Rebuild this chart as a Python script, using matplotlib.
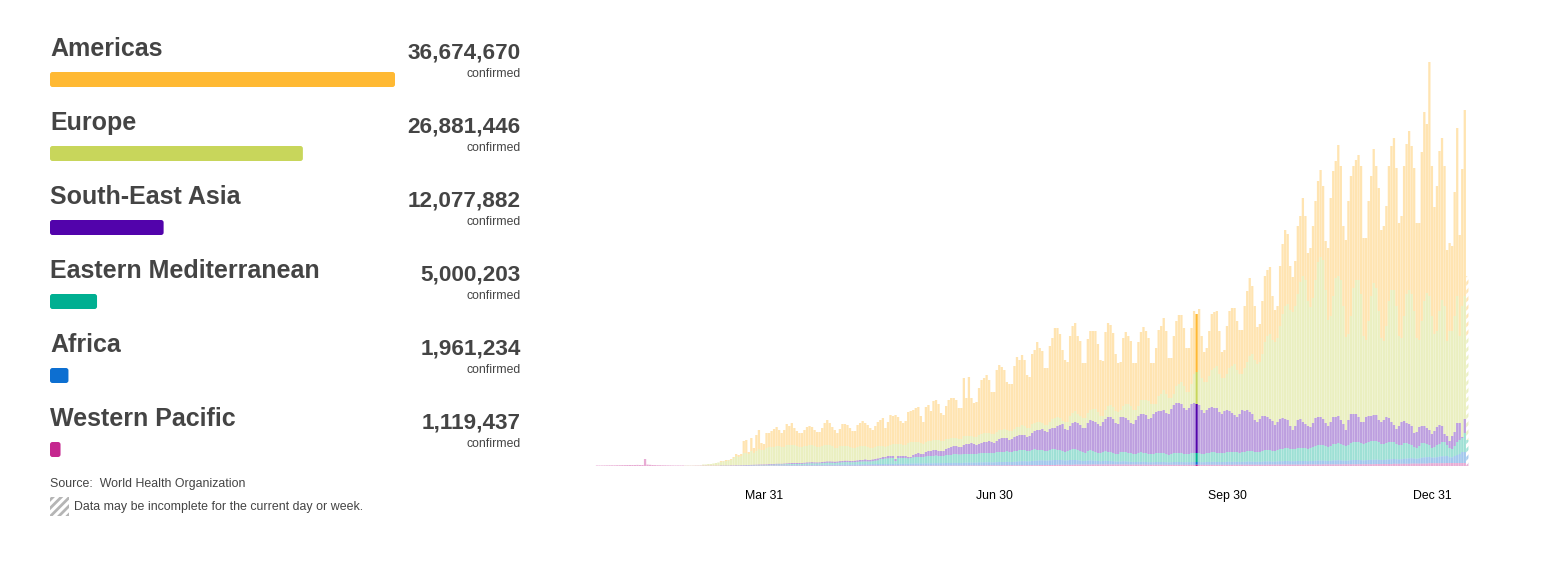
import matplotlib
matplotlib.use("Agg")
import matplotlib.pyplot as plt
import numpy as np
from matplotlib.colors import to_rgba
from matplotlib.patches import FancyBboxPatch, Rectangle

plt.rcParams['font.family'] = ['Liberation Sans', 'DejaVu Sans']
plt.rcParams['hatch.linewidth'] = 2.0

regions = ["Americas", "Europe", "South-East Asia", "Eastern Mediterranean", "Africa", "Western Pacific"]
totals = [36674670, 26881446, 12077882, 5000203, 1961234, 1119437]
colors = ["#FFB933", "#C8D65B", "#5203AB", "#00AF91", "#0D6FD1", "#C5278F"]

tick_days = [66, 157, 249, 330]
tick_labels = ["Mar 31", "Jun 30", "Sep 30", "Dec 31"]

# daily cases, stacked: top of each layer in units of ~2000 cases
# one row per week, the first weeks are Western Pacific only
early = [
    .5, .5, .5, .6, .6, .7, .7,
    .7, .8, .8, .9, .9, 1, 1,
    1, 1, 1.1, 1, 1, 7, 1.4,
    1.2, 1, .9, .8, .8, .7, .7,
    .6, .6, .5, .5, .5, .5, .5,
]

top_americas = early + [
    .5, .5, .5, .5, .6, .6, .7,
    1.5, 1.5, 2, 2, 2.5, 3, 3.5,
    5, 5, 6, 6, 7, 9, 12,
    11, 12, 25, 26, 14, 28, 18,
    31, 36, 23, 22, 33, 33, 35,
    37, 39, 36, 33, 36, 42, 40,
    43, 38, 35, 33, 33, 36, 39,
    40, 39, 36, 34, 34, 38, 43,
    46, 43, 39, 36, 33, 37, 42,
    42, 41, 38, 35, 35, 41, 43,
    45, 43, 41, 38, 36, 40, 44,
    46, 48, 38, 44, 51, 50, 51,
    49, 45, 43, 45, 54, 55, 56,
    58, 59, 50, 44, 59, 61, 55,
    65, 66, 62, 53, 51, 60, 66,
    68, 68, 66, 58, 58, 88, 68,
    89, 68, 63, 64, 78, 86, 88,
    91, 86, 74, 74, 96, 101, 99,
    96, 84, 82, 82, 100, 109, 106,
    111, 106, 91, 89, 112, 116, 124,
    118, 115, 98, 98, 120, 128, 138,
    138, 132, 116, 106, 104, 130, 140,
    143, 130, 125, 103, 103, 127, 135,
    135, 135, 122, 106, 105, 134, 143,
    141, 133, 112, 103, 104, 128, 134,
    130, 125, 103, 103, 124, 134, 139,
    135, 128, 103, 103, 118, 136, 140,
    148, 135, 108, 108, 130, 145, 151,
    151, 138, 118, 118, 138, 155, 152,
    157, 130, 114, 118, 135, 152, 154,
    155, 135, 114, 116, 140, 155, 158,
    158, 145, 136, 136, 160, 175, 188,
    180, 160, 139, 142, 165, 190, 196,
    199, 170, 156, 160, 200, 222, 236,
    232, 200, 189, 205, 240, 250, 268,
    250, 213, 218, 240, 265, 285, 296,
    280, 225, 218, 268, 295, 305, 321,
    300, 240, 226, 265, 290, 300, 306,
    311, 300, 228, 228, 265, 290, 317,
    300, 278, 236, 240, 260, 300, 320,
    328, 298, 243, 250, 300, 322, 335,
    320, 298, 243, 243, 314, 354, 342,
    404, 300, 259, 280, 315, 328, 300,
    216, 223, 220, 274, 338, 231, 297,
    356, 190,
]

top_europe = early + [
    .5, .5, .5, .5, .6, .6, .7,
    1.5, 1.5, 2, 2, 2.5, 3, 3.5,
    4, 4.5, 5, 5.5, 6, 8, 10,
    9, 10, 13, 13, 12, 15, 13,
    15, 17, 16, 16, 18, 19, 19,
    19, 20, 20, 19, 19, 21, 21,
    21, 21, 20, 19, 19, 20, 20,
    21, 21, 20, 19, 19, 20, 21,
    21, 21, 20, 18, 18, 20, 20,
    20, 20, 19, 18, 18, 19, 20,
    20, 20, 19, 18, 18, 19, 20,
    20, 20, 19, 20, 21, 22, 22,
    22, 22, 21, 21, 23, 24, 24,
    24, 24, 23, 22, 24, 25, 25,
    26, 26, 26, 25, 25, 27, 27,
    28, 28, 28, 27, 27, 30, 30,
    30, 30, 29, 29, 31, 32, 33,
    33, 33, 32, 32, 34, 36, 36,
    37, 36, 35, 35, 37, 39, 39,
    41, 40, 38, 38, 42, 43, 44,
    44, 43, 41, 41, 44, 47, 48,
    49, 48, 45, 44, 44, 50, 53,
    55, 52, 50, 48, 48, 53, 56,
    57, 57, 54, 50, 50, 56, 60,
    61, 59, 55, 54, 56, 60, 62,
    62, 60, 56, 56, 60, 66, 66,
    66, 65, 62, 62, 62, 70, 72,
    76, 72, 68, 68, 72, 80, 82,
    84, 80, 74, 74, 82, 92, 94,
    96, 88, 84, 84, 90, 96, 98,
    100, 92, 88, 88, 92, 98, 100,
    102, 96, 92, 92, 98, 104, 110,
    112, 106, 102, 104, 112, 124, 130,
    132, 126, 124, 128, 140, 152, 160,
    162, 156, 154, 160, 172, 184, 190,
    186, 165, 159, 168, 186, 204, 209,
    206, 176, 146, 150, 170, 188, 190,
    186, 160, 129, 132, 150, 178, 186,
    186, 172, 130, 126, 145, 170, 183,
    178, 155, 128, 125, 140, 165, 176,
    176, 160, 130, 128, 150, 172, 176,
    172, 155, 128, 126, 145, 165, 173,
    170, 150, 132, 135, 155, 166, 160,
    125, 135, 135, 150, 170, 130, 160,
    170, 130,
]

top_searo = early + [
    .2, .2, .2, .2, .3, .3, .3,
    .3, .3, .3, .3, .3, .3, .3,
    .5, .5, .5, .5, .6, .6, .7,
    .7, .8, .9, 1, 1, 1.1, 1.2,
    1.3, 1.4, 1.5, 1.5, 1.6, 1.8, 2,
    2, 2.2, 2.2, 2.2, 2.4, 2.6, 2.8,
    3, 3, 3, 3, 3, 3.2, 3.5,
    3.6, 3.8, 3.6, 3.5, 3.6, 4, 4.2,
    4.5, 4.5, 4.4, 4.2, 4.4, 4.8, 5,
    5.2, 5.2, 5, 5, 5.2, 5.6, 6,
    6, 6.5, 6, 6, 6.5, 7, 7.5,
    8, 9, 9, 10, 10, 10, 7,
    10, 10, 10, 10, 9, 9, 11,
    12, 13, 12, 12, 14, 15, 15,
    16, 16, 15, 15, 15, 17, 18,
    19, 20, 20, 19, 19, 21, 22,
    22, 23, 22, 21, 22, 23, 24,
    24, 25, 24, 23, 25, 27, 28,
    28, 28, 26, 27, 29, 30, 31,
    31, 31, 29, 30, 33, 35, 36,
    36, 37, 35, 34, 37, 38, 38,
    40, 41, 42, 37, 36, 40, 43,
    44, 43, 41, 38, 38, 43, 46,
    45, 44, 42, 40, 44, 47, 49,
    49, 47, 43, 42, 49, 49, 48,
    46, 43, 42, 46, 50, 52, 52,
    51, 47, 48, 52, 54, 55, 55,
    56, 53, 52, 57, 61, 63, 63,
    62, 58, 56, 58, 62, 63, 62,
    61, 56, 53, 56, 58, 59, 58,
    58, 54, 52, 55, 56, 55, 53,
    51, 49, 52, 56, 55, 56, 54,
    52, 46, 44, 47, 50, 50, 49,
    47, 45, 41, 44, 47, 48, 47,
    46, 40, 36, 40, 46, 47, 44,
    42, 40, 39, 43, 48, 49, 49,
    47, 43, 40, 44, 49, 49, 50,
    46, 42, 36, 46, 52, 52, 52,
    49, 44, 44, 49, 50, 50, 51,
    51, 46, 44, 46, 49, 48, 44,
    41, 37, 40, 44, 45, 43, 42,
    40, 33, 34, 39, 40, 40, 38,
    36, 32, 35, 39, 41, 40, 32,
    30, 25, 30, 34, 43, 43, 29,
    47, 26,
]

top_emro = early + [
    .2, .2, .2, .2, .3, .3, .3,
    .3, .3, .3, .3, .3, .3, .3,
    .3, .3, .3, .3, .3, .3, .3,
    .4, .4, .5, .5, .6, .6, .7,
    .8, .8, .9, .9, 1, 1.1, 1.2,
    1.3, 1.4, 1.5, 1.5, 1.6, 1.8, 1.9,
    2, 2, 2, 2, 2.1, 2.2, 2.4,
    2.5, 2.6, 2.5, 2.5, 2.6, 2.8, 3,
    3.2, 3.2, 3.1, 3, 3.2, 3.4, 3.6,
    3.8, 3.8, 3.7, 3.7, 3.8, 4.1, 4.4,
    4.5, 4.6, 4.5, 4.5, 4.8, 5.2, 5.6,
    7, 7, 7.5, 7.5, 8, 8, 5,
    8, 8, 8, 8, 7.5, 8, 8.5,
    9, 9, 9, 9, 9.5, 10, 10,
    10, 10.5, 10, 10, 10, 11, 11,
    11, 12, 12, 11.5, 11.5, 12, 12,
    12, 12, 12, 12, 12.5, 13, 13,
    13, 13, 13, 13, 14, 14, 14,
    14, 15, 14, 14, 15, 15, 16,
    16, 16, 15, 15, 16, 17, 16,
    16, 16, 15, 15, 16, 17, 17,
    16, 16, 15, 14, 15, 16, 17,
    17, 16, 15, 14, 13, 15, 16,
    15, 14, 13, 13, 14, 15, 14,
    14, 13, 12, 12, 14, 14, 14,
    13, 13, 12, 12, 13, 14, 13,
    13, 12, 12, 12, 13, 13, 13,
    13, 12, 11, 12, 13, 13, 13,
    13, 12, 12, 12, 13, 13, 13,
    13, 12, 12, 13, 13, 14, 14,
    13, 13, 13, 13, 14, 14, 14,
    14, 14, 13, 14, 14, 15, 15,
    15, 14, 14, 14, 15, 16, 16,
    16, 15, 15, 16, 17, 17, 18,
    18, 17, 17, 17, 18, 18, 18,
    18, 17, 18, 19, 20, 21, 21,
    21, 20, 19, 20, 22, 22, 23,
    22, 21, 20, 21, 23, 24, 24,
    24, 23, 22, 23, 24, 25, 25,
    25, 24, 22, 22, 23, 24, 24,
    24, 22, 21, 21, 23, 23, 22,
    21, 19, 18, 20, 23, 23, 22,
    21, 18, 19, 21, 22, 24, 24,
    21, 18, 17, 20, 24, 26, 28,
    33, 26,
]

top_africa = early + [
    .2, .2, .2, .2, .3, .3, .3,
    .3, .3, .3, .3, .3, .3, .3,
    .2, .2, .2, .2, .2, .2, .2,
    .2, .2, .3, .3, .3, .4, .4,
    .4, .4, .5, .5, .5, .6, .6,
    .7, .7, .8, .8, .8, .9, .9,
    1, 1, 1, 1, 1, 1, 1.1,
    1.1, 1.1, 1.1, 1.1, 1.2, 1.2, 1.3,
    1.3, 1.3, 1.3, 1.3, 1.4, 1.4, 1.5,
    1.5, 1.5, 1.5, 1.5, 1.6, 1.6, 1.7,
    1.7, 1.8, 1.8, 1.8, 1.9, 1.9, 2,
    2, 2, 2, 2, 2.2, 2.2, 2,
    2.2, 2.2, 2.2, 2.2, 2.2, 2.4, 2.4,
    2.5, 2.5, 2.5, 2.5, 2.6, 2.6, 2.7,
    2.7, 2.8, 2.8, 2.8, 2.8, 3, 3,
    3, 3.1, 3.1, 3, 3, 3.2, 3.3,
    3.3, 3.4, 3.3, 3.3, 3.5, 3.6, 3.6,
    3.7, 3.7, 3.6, 3.6, 3.8, 4, 4,
    4, 4.2, 4, 4, 4.2, 4.4, 4.6,
    4.8, 4.8, 4.6, 4.6, 5, 5.2, 5.4,
    5.6, 5.6, 5.4, 5.4, 5.6, 5.8, 6,
    6, 6, 5.8, 5.4, 5.6, 6, 6,
    6, 5.8, 5.4, 5, 5, 5.4, 5.6,
    5.4, 5.2, 5, 4.8, 5, 5.2, 5,
    5, 4.8, 4.4, 4.4, 4.6, 4.8, 4.6,
    4.4, 4.2, 4, 4, 4.2, 4.2, 4.2,
    4, 3.8, 3.8, 3.8, 4, 4, 4,
    4, 3.8, 3.6, 3.8, 4, 4, 4,
    4, 3.8, 3.8, 3.8, 4, 4, 4,
    4, 3.8, 3.8, 4, 4, 4.2, 4.2,
    4, 4, 4, 4, 4.2, 4.2, 4.2,
    4.2, 4.2, 4, 4.2, 4.2, 4.4, 4.4,
    4.4, 4.2, 4.2, 4.2, 4.4, 4.6, 4.6,
    4.6, 4.4, 4.4, 4.6, 4.8, 4.8, 5,
    5, 4.8, 4.8, 4.8, 5, 5, 5,
    5, 4.8, 5, 5, 5.2, 5.4, 5.4,
    5.4, 5.2, 5, 5.2, 5.6, 5.6, 5.8,
    5.6, 5.4, 5.2, 5.4, 5.8, 6, 6,
    6, 5.8, 5.6, 5.8, 6, 6.2, 6.2,
    6.4, 6.2, 6, 6, 6.4, 6.6, 6.8,
    7, 6.8, 6.6, 6.8, 7.2, 7.4, 7.6,
    7.8, 7.4, 7.2, 7.6, 8.2, 8.6, 8.8,
    9, 8.4, 8.4, 8.8, 9.4, 9.6, 9.8,
    10, 8.8, 8.6, 10, 11, 12, 14,
    14, 13,
]

top_wpro = early + [
    .2, .2, .2, .2, .3, .3, .3,
    .3, .3, .3, .3, .3, .3, .3,
    .2, .2, .2, .2, .2, .2, .2,
    .2, .2, .2, .2, .2, .2, .2,
    .3, .3, .3, .3, .3, .3, .3,
    .3, .3, .3, .3, .3, .3, .3,
    .3, .3, .3, .3, .3, .3, .3,
    .3, .3, .3, .3, .3, .3, .3,
    .3, .3, .3, .3, .3, .3, .3,
    .3, .3, .3, .3, .3, .3, .3,
    .4, .4, .4, .4, .4, .4, .4,
    .4, .4, .4, .4, .4, .4, .4,
    .4, .4, .4, .4, .4, .4, .4,
    .4, .4, .4, .4, .4, .4, .4,
    .4, .4, .4, .4, .4, .4, .4,
    .4, .4, .4, .4, .4, .4, .4,
    .5, .5, .5, .5, .5, .5, .5,
    .6, .6, .6, .6, .6, .6, .6,
    .7, .7, .7, .7, .7, .7, .7,
    .8, .8, .8, .8, .8, .8, .8,
    1, 1, 1, 1, 1, 1, 1,
    1.2, 1.2, 1.2, 1.2, 1.2, 1.2, 1.2,
    1.4, 1.4, 1.4, 1.4, 1.4, 1.4, 1.4,
    1.5, 1.5, 1.5, 1.5, 1.5, 1.5, 1.5,
    1.5, 1.5, 1.5, 1.5, 1.5, 1.5, 1.5,
    1.4, 1.4, 1.4, 1.4, 1.4, 1.4, 1.4,
    1.3, 1.3, 1.3, 1.3, 1.3, 1.3, 1.3,
    1.2, 1.2, 1.2, 1.2, 1.2, 1.2, 1.2,
    1.2, 1.2, 1.2, 1.2, 1.2, 1.2, 1.2,
    1.2, 1.2, 1.2, 1.2, 1.2, 1.2, 1.2,
    1.2, 1.2, 1.2, 1.2, 1.2, 1.2, 1.2,
    1.3, 1.3, 1.3, 1.3, 1.3, 1.3, 1.3,
    1.3, 1.3, 1.3, 1.3, 1.3, 1.3, 1.3,
    1.4, 1.4, 1.4, 1.4, 1.4, 1.4, 1.4,
    1.4, 1.4, 1.4, 1.4, 1.4, 1.4, 1.4,
    1.5, 1.5, 1.5, 1.5, 1.5, 1.5, 1.5,
    1.6, 1.6, 1.6, 1.6, 1.6, 1.6, 1.6,
    1.7, 1.7, 1.7, 1.7, 1.7, 1.7, 1.7,
    1.8, 1.8, 1.8, 1.8, 1.8, 1.8, 1.8,
    2, 2, 2, 2, 2, 2, 2,
    2.2, 2.2, 2.2, 2.2, 2.2, 2.2, 2.2,
    2.4, 2.4, 2.4, 2.4, 2.4, 2.4, 2.4,
    2.8, 2.8, 2.8, 2.8, 2.8, 2.8, 2.8,
    3, 3, 3, 3, 3, 3, 3,
    3, 2.5,
]

highlight_day = 237
text_color = "#444444"

fig = plt.figure(figsize=(15.58, 5.65), dpi=100)

# left panel, in pixels
panel = fig.add_axes([0, 0, 1, 1])
panel.set_xlim(0, 1558)
panel.set_ylim(565, 0)
panel.axis("off")

px_per_case = 345 / totals[0]
for i, name in enumerate(regions):
    y = 74 * i
    panel.text(50, 49 + y, name, fontsize=18, fontweight="bold", color=text_color, va="center", ha="left")
    panel.text(521, 53.5 + y, f"{totals[i]:,}", fontsize=16.2, fontweight="bold", color=text_color, va="center", ha="right")
    panel.text(521, 74 + y, "confirmed", fontsize=8.8, color=text_color, va="center", ha="right")
    width = totals[i] * px_per_case
    panel.add_patch(FancyBboxPatch((50 + 2.5, 72 + y + 2.5), max(width - 5, 0.5), 10,
                                   boxstyle="round,pad=2.5,rounding_size=2.5", facecolor=colors[i], edgecolor="none"))

panel.text(50, 484, "Source:  World Health Organization", fontsize=8.95, color=text_color, va="center", ha="left")
panel.add_patch(Rectangle((50, 497), 19, 19, facecolor="white", edgecolor="#b5b5b5", hatch="////", linewidth=0))
panel.text(74, 507, "Data may be incomplete for the current day or week.", fontsize=8.95, color=text_color, va="center", ha="left")

# stacked daily bars
ax = fig.add_axes([590 / 1558, (565 - 466) / 565, 885 / 1558, 420 / 565])
ax.patch.set_alpha(0)

tops = [np.array(t, dtype=float) for t in (top_americas, top_europe, top_searo, top_emro, top_africa, top_wpro)]
n = len(tops[0])
days = np.arange(n)

for i in range(6):
    bottom = tops[i + 1] if i < 5 else np.zeros(n)
    height = tops[i] - bottom
    alphas = np.full(n, 0.38)
    alphas[highlight_day] = 1.0
    bar_colors = [to_rgba(colors[i], a) for a in alphas]
    ax.bar(days[:-1], height[:-1], bottom=bottom[:-1], width=0.9, color=bar_colors[:-1], linewidth=0, snap=False)
    # last day is incomplete
    ax.bar(days[-1:], height[-1:], bottom=bottom[-1:], width=0.9, facecolor="white",
           edgecolor=to_rgba(colors[i], 0.35), hatch="////", linewidth=0, snap=False)

ax.set_xlim(-7 / 2.53, 878 / 2.53)
ax.set_ylim(0, 420)
ax.set_yticks([])
ax.set_xticks(tick_days)
ax.set_xticklabels(tick_labels, fontsize=8.8, color="black")
ax.tick_params(axis="x", length=0, pad=17)
for side in ax.spines.values():
    side.set_visible(False)

fig.savefig("out.png", dpi=100)
